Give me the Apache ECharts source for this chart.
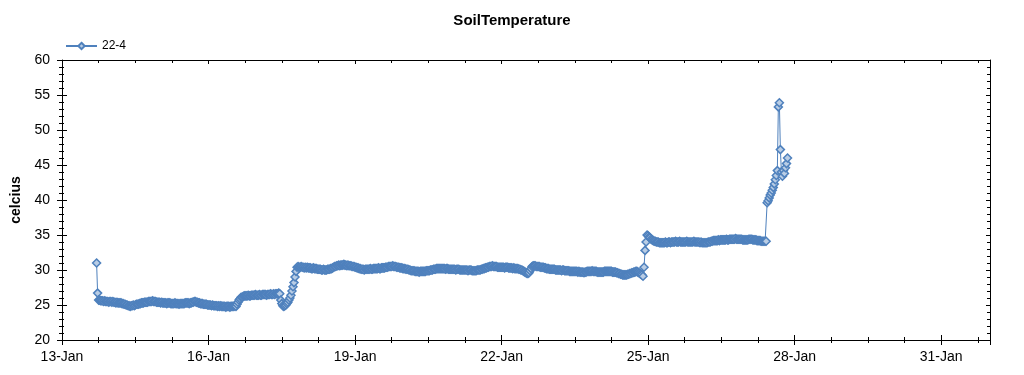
<!DOCTYPE html>
<html>
<head>
<meta charset="utf-8">
<script src="https://cdn.jsdelivr.net/npm/echarts@6/dist/echarts.min.js"></script>
<style>
html,body{margin:0;padding:0;background:#fff;}
#chart{width:1024px;height:375px;}
</style>
</head>
<body>
<div id="chart"></div>
<script>
// Half-hourly soil temperature readings (celcius), series "22-4"
// first reading: 13-Jan 17:00, one value every 30 minutes
const seriesName = '22-4';
const firstHour = 17;      // hour of 13-Jan of the first reading
const stepHours = 0.5;     // sampling step
const day13 = [31.0, 26.7, 25.7, 25.7, 25.6, 25.6, 25.6, 25.5, 25.6, 25.5, 25.5, 25.5, 25.4, 25.5];
const day14 = [
  25.5, 25.4, 25.5, 25.4, 25.4, 25.3, 25.4, 25.3, 25.3, 25.3, 25.3, 25.2,
  25.2, 25.1, 25.1, 25.0, 25.0, 24.9, 24.9, 24.8, 24.9, 24.9, 25.0, 24.9,
  25.0, 25.1, 25.1, 25.1, 25.2, 25.2, 25.3, 25.3, 25.3, 25.4, 25.4, 25.4,
  25.4, 25.5, 25.5, 25.5, 25.5, 25.6, 25.5, 25.5, 25.5, 25.4, 25.4, 25.4];
const day15 = [
  25.4, 25.3, 25.4, 25.3, 25.3, 25.3, 25.3, 25.2, 25.3, 25.3, 25.3, 25.2,
  25.2, 25.2, 25.2, 25.3, 25.2, 25.2, 25.2, 25.1, 25.2, 25.2, 25.2, 25.2,
  25.2, 25.3, 25.3, 25.3, 25.3, 25.2, 25.3, 25.3, 25.4, 25.4, 25.5, 25.5,
  25.4, 25.4, 25.3, 25.3, 25.2, 25.2, 25.2, 25.1, 25.1, 25.1, 25.1, 25.0];
const day16 = [
  25.0, 25.0, 25.0, 24.9, 25.0, 24.9, 24.9, 24.9, 24.9, 24.8, 24.9, 24.8,
  24.9, 24.8, 24.8, 24.8, 24.8, 24.7, 24.8, 24.8, 24.8, 24.7, 24.8, 24.8,
  24.8, 24.8, 24.9, 24.8, 25.1, 25.4, 25.7, 25.9, 26.1, 26.1, 26.2, 26.3,
  26.3, 26.3, 26.3, 26.4, 26.3, 26.3, 26.4, 26.4, 26.4, 26.4, 26.5, 26.4];
const day17 = [
  26.4, 26.4, 26.5, 26.4, 26.4, 26.5, 26.5, 26.5, 26.5, 26.4, 26.5, 26.5,
  26.5, 26.6, 26.5, 26.5, 26.6, 26.5, 26.6, 26.6, 26.6, 26.7, 26.6, 25.7,
  25.2, 24.9, 24.8, 24.9, 25.0, 25.2, 25.4, 25.7, 26.0, 26.4, 27.0, 27.6,
  28.2, 29.0, 29.8, 30.4, 30.5, 30.4, 30.4, 30.5, 30.4, 30.4, 30.3, 30.4];
const day18 = [
  30.3, 30.4, 30.3, 30.3, 30.3, 30.2, 30.2, 30.3, 30.2, 30.2, 30.2, 30.1,
  30.1, 30.1, 30.1, 30.0, 30.0, 30.1, 30.0, 30.0, 30.0, 30.1, 30.1, 30.1,
  30.2, 30.2, 30.3, 30.4, 30.5, 30.5, 30.6, 30.6, 30.7, 30.6, 30.7, 30.7,
  30.7, 30.8, 30.7, 30.7, 30.6, 30.7, 30.6, 30.6, 30.6, 30.5, 30.5, 30.5];
const day19 = [
  30.4, 30.4, 30.3, 30.3, 30.2, 30.2, 30.1, 30.1, 30.1, 30.0, 30.1, 30.1,
  30.1, 30.1, 30.1, 30.2, 30.1, 30.1, 30.2, 30.2, 30.2, 30.2, 30.2, 30.3,
  30.2, 30.2, 30.3, 30.3, 30.3, 30.3, 30.4, 30.4, 30.4, 30.5, 30.5, 30.5,
  30.5, 30.6, 30.5, 30.5, 30.5, 30.4, 30.4, 30.4, 30.3, 30.3, 30.3, 30.2];
const day20 = [
  30.2, 30.2, 30.1, 30.1, 30.1, 30.0, 30.0, 29.9, 29.9, 29.9, 29.9, 29.8,
  29.8, 29.8, 29.8, 29.7, 29.8, 29.8, 29.8, 29.8, 29.8, 29.8, 29.9, 29.9,
  29.9, 29.9, 30.0, 30.0, 30.0, 30.1, 30.1, 30.1, 30.2, 30.2, 30.2, 30.2,
  30.2, 30.2, 30.2, 30.2, 30.2, 30.1, 30.2, 30.2, 30.1, 30.1, 30.1, 30.1];
const day21 = [
  30.1, 30.1, 30.1, 30.0, 30.1, 30.1, 30.1, 30.0, 30.0, 30.0, 30.0, 30.0,
  30.0, 30.0, 30.0, 29.9, 30.0, 30.0, 30.0, 29.9, 29.9, 29.9, 29.9, 29.9,
  30.0, 30.0, 30.0, 30.0, 30.1, 30.1, 30.2, 30.2, 30.3, 30.3, 30.4, 30.4,
  30.5, 30.5, 30.5, 30.6, 30.5, 30.5, 30.5, 30.5, 30.4, 30.4, 30.4, 30.4];
const day22 = [
  30.4, 30.4, 30.4, 30.3, 30.4, 30.4, 30.4, 30.3, 30.3, 30.3, 30.3, 30.2,
  30.3, 30.2, 30.2, 30.2, 30.2, 30.1, 30.1, 30.0, 30.0, 29.9, 29.8, 29.7,
  29.6, 29.5, 29.5, 29.6, 29.9, 30.2, 30.5, 30.6, 30.6, 30.6, 30.5, 30.5,
  30.5, 30.5, 30.4, 30.4, 30.4, 30.4, 30.3, 30.3, 30.2, 30.2, 30.2, 30.1];
const day23 = [
  30.1, 30.1, 30.1, 30.1, 30.1, 30.0, 30.0, 30.0, 30.0, 30.0, 30.0, 29.9,
  30.0, 30.0, 29.9, 29.9, 29.9, 29.9, 29.9, 29.8, 29.8, 29.8, 29.8, 29.8,
  29.8, 29.8, 29.8, 29.7, 29.8, 29.7, 29.7, 29.7, 29.7, 29.6, 29.7, 29.7,
  29.8, 29.8, 29.8, 29.8, 29.8, 29.9, 29.8, 29.8, 29.8, 29.8, 29.7, 29.7];
const day24 = [
  29.7, 29.7, 29.7, 29.7, 29.7, 29.8, 29.8, 29.8, 29.8, 29.8, 29.8, 29.8,
  29.8, 29.7, 29.7, 29.7, 29.7, 29.6, 29.6, 29.5, 29.5, 29.4, 29.4, 29.3,
  29.3, 29.3, 29.3, 29.3, 29.4, 29.4, 29.5, 29.5, 29.6, 29.6, 29.7, 29.7,
  29.8, 29.8, 29.7, 29.6, 29.5, 29.4, 29.3, 29.1, 30.4, 32.8, 34.0, 35.0];
const day25 = [
  34.9, 34.7, 34.6, 34.4, 34.3, 34.2, 34.1, 34.1, 34.0, 34.0, 34.0, 33.9,
  33.9, 33.9, 33.9, 33.9, 33.9, 34.0, 33.9, 33.9, 34.0, 34.0, 33.9, 34.0,
  34.0, 34.0, 34.0, 34.1, 34.0, 34.0, 34.0, 34.1, 34.0, 34.0, 34.0, 34.0,
  34.0, 34.0, 34.1, 34.0, 34.0, 34.0, 34.0, 34.0, 34.0, 34.1, 34.0, 34.0];
const day26 = [
  34.0, 34.0, 34.0, 33.9, 34.0, 33.9, 33.9, 33.9, 33.9, 33.9, 33.9, 34.0,
  34.0, 34.0, 34.1, 34.1, 34.2, 34.2, 34.2, 34.2, 34.2, 34.3, 34.2, 34.3,
  34.3, 34.3, 34.3, 34.3, 34.3, 34.4, 34.3, 34.3, 34.4, 34.4, 34.4, 34.4,
  34.4, 34.4, 34.5, 34.4, 34.4, 34.4, 34.4, 34.4, 34.4, 34.3, 34.3, 34.3];
const day27 = [
  34.3, 34.3, 34.3, 34.4, 34.4, 34.4, 34.4, 34.3, 34.3, 34.3, 34.3, 34.2,
  34.2, 34.2, 34.2, 34.1, 34.1, 34.1, 34.1, 34.1, 34.1, 39.6, 39.9, 40.3,
  40.7, 41.0, 41.4, 41.8, 42.3, 42.9, 43.5, 44.2, 53.3, 53.9, 47.2, 44.0,
  43.4, 44.2, 43.8, 44.6, 45.2, 46.0];

// x axis: days since 13-Jan 00:00
const xTickLabels = ['13-Jan', '16-Jan', '19-Jan', '22-Jan', '25-Jan', '28-Jan', '31-Jan'];
const xMin = 0, xMax = 19, xMajor = 3, xMinor = 0.75;
const yMin = 20, yMax = 60, yMajor = 5;

const temps = [].concat(day13, day14, day15, day16, day17, day18, day19, day20,
  day21, day22, day23, day24, day25, day26, day27);
const seriesData = temps.map((v, i) => [(firstHour + i * stepHours) / 24, v]);

const BLUE = '#4f81bd';
const FILL = '#b9cde5';
const FONT = 'Liberation Sans, Arial, sans-serif';

function xLabel(v) {
  const k = Math.round(v / xMajor);
  if (Math.abs(v - k * xMajor) < 1e-6 && k < xTickLabels.length) return xTickLabels[k];
  return '';
}

function xAx(opts) {
  return Object.assign({
    type: 'value', min: xMin, max: xMax, position: 'bottom',
    axisLine: { show: false },
    axisLabel: { show: false },
    splitLine: { show: false },
    axisTick: { show: false }
  }, opts);
}
function yAx(opts) {
  return Object.assign({
    type: 'value', min: yMin, max: yMax, interval: yMajor, position: 'left',
    axisLine: { show: false },
    axisLabel: { show: false },
    splitLine: { show: false },
    axisTick: { show: false },
    minorTick: { show: false }
  }, opts);
}
const black = { color: '#000', width: 1 };

const option = {
  backgroundColor: '#fff',
  animation: false,
  title: {
    text: 'SoilTemperature',
    left: 'center', top: 8,
    textStyle: { fontFamily: FONT, fontSize: 15, fontWeight: 'bold', color: '#000' }
  },
  legend: {
    left: 60, top: 35,
    itemWidth: 31, itemHeight: 8,
    textStyle: { fontFamily: FONT, fontSize: 12, color: '#000' },
    data: [seriesName]
  },
  grid: { left: 62, right: 34, top: 60, bottom: 35, containLabel: false },
  xAxis: [
    xAx({
      interval: xMajor,
      axisLine: { show: true, onZero: false, lineStyle: black },
      axisTick: { show: true, length: 5, lineStyle: black },
      axisLabel: { show: true, formatter: xLabel, margin: 10, fontFamily: FONT, fontSize: 14, color: '#000', showMaxLabel: true, showMinLabel: true }
    }),
    xAx({ interval: xMajor, axisTick: { show: true, inside: true, length: 5, lineStyle: black } }),
    xAx({ interval: xMinor, axisTick: { show: true, length: 3, lineStyle: black } }),
    xAx({ interval: xMinor, axisTick: { show: true, inside: true, length: 3, lineStyle: black } }),
    xAx({
      position: 'top', interval: xMajor,
      axisLine: { show: true, onZero: false, lineStyle: black },
      axisTick: { show: true, inside: true, length: 4, lineStyle: black }
    }),
    xAx({ position: 'top', interval: xMinor, axisTick: { show: true, inside: true, length: 3, lineStyle: black } })
  ],
  yAxis: [
    yAx({
      name: 'celcius', nameLocation: 'middle', nameGap: 38,
      nameTextStyle: { fontFamily: FONT, fontSize: 14, fontWeight: 'bold', color: '#000' },
      axisLine: { show: true, onZero: false, lineStyle: black },
      axisTick: { show: true, length: 5, lineStyle: black },
      minorTick: { show: true, splitNumber: 5, length: 3, lineStyle: black },
      axisLabel: { show: true, margin: 12, fontFamily: FONT, fontSize: 14, color: '#000' }
    }),
    yAx({
      axisTick: { show: true, inside: true, length: 5, lineStyle: black },
      minorTick: { show: true, splitNumber: 5, length: 2, lineStyle: black }
    }),
    yAx({
      position: 'right',
      axisLine: { show: true, onZero: false, lineStyle: black },
      axisTick: { show: true, inside: true, length: 4, lineStyle: black },
      minorTick: { show: true, splitNumber: 5, length: 3, lineStyle: black }
    })
  ],
  series: [{
    name: seriesName,
    type: 'line',
    xAxisIndex: 0, yAxisIndex: 0,
    data: seriesData,
    symbol: 'diamond',
    symbolSize: 8,
    showSymbol: true,
    showAllSymbol: true,
    sampling: null,
    lineStyle: { color: BLUE, width: 1 },
    itemStyle: { color: FILL, borderColor: BLUE, borderWidth: 1.5 },
    emphasis: { disabled: true }
  }]
};

const chart = echarts.init(document.getElementById('chart'), null, { renderer: 'canvas' });
chart.setOption(option);
</script>
</body>
</html>
